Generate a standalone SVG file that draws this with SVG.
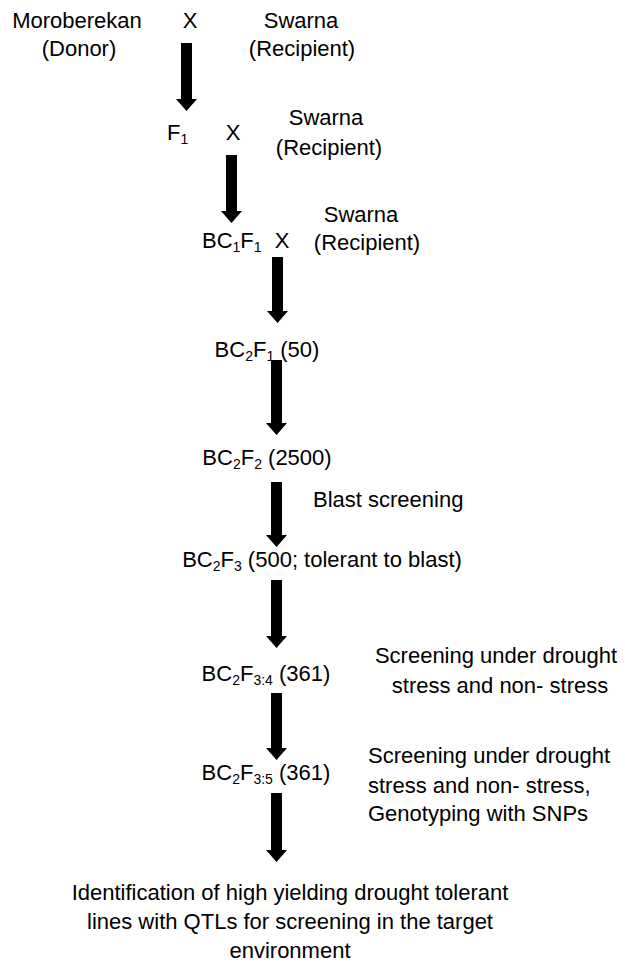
<svg xmlns="http://www.w3.org/2000/svg" width="625" height="967" viewBox="0 0 625 967">
<style>
text{font-family:"Liberation Sans",Arial,sans-serif;font-size:22px;fill:#000}
.s{font-size:14px}
.m{text-anchor:middle}
.arr{fill:#000}
</style>
<rect width="625" height="967" fill="#fff"/>
<g id="connectors" class="arr">
<path d="M181,43 H192 V99 H197 L186.5,111 L176,99 H181 Z"/>
<path d="M226,155 H237 V211 H242 L231.5,223 L221,211 H226 Z"/>
<path d="M272,257 H283 V311 H288 L277.5,323 L267,311 H272 Z"/>
<path d="M271,360 H282 V423 H287 L276.5,435 L266,423 H271 Z"/>
<path d="M271,482 H282 V535 H287 L276.5,547 L266,535 H271 Z"/>
<path d="M271,580 H282 V636 H287 L276.5,648 L266,636 H271 Z"/>
<path d="M271,693 H282 V748 H287 L276.5,760 L266,748 H271 Z"/>
<path d="M271,793 H282 V850 H287 L276.5,862 L266,850 H271 Z"/>
</g>
<g id="donor"><text class="m" x="77" y="28">Moroberekan</text><text class="m" x="79" y="56">(Donor)</text></g>
<g id="cross1"><text class="m" x="190" y="28">X</text></g>
<g id="recipient1"><text class="m" x="301" y="28">Swarna</text><text class="m" x="302" y="56">(Recipient)</text></g>
<g id="f1"><text x="167" y="140">F<tspan class="s" dy="4">1</tspan></text></g>
<g id="cross2"><text class="m" x="233" y="140">X</text></g>
<g id="recipient2"><text class="m" x="326" y="125">Swarna</text><text class="m" x="329" y="155">(Recipient)</text></g>
<g id="bc1f1"><text x="202" y="248">BC<tspan class="s" dy="4">1</tspan><tspan dy="-4">F</tspan><tspan class="s" dy="4">1</tspan></text></g>
<g id="cross3"><text class="m" x="282" y="248">X</text></g>
<g id="recipient3"><text class="m" x="361" y="222">Swarna</text><text class="m" x="367" y="250">(Recipient)</text></g>
<g id="bc2f1"><text class="m" x="267" y="357">BC<tspan class="s" dy="4">2</tspan><tspan dy="-4">F</tspan><tspan class="s" dy="4">1</tspan><tspan dy="-4"> (50)</tspan></text></g>
<g id="bc2f2"><text class="m" x="267" y="465">BC<tspan class="s" dy="4">2</tspan><tspan dy="-4">F</tspan><tspan class="s" dy="4">2</tspan><tspan dy="-4"> (2500)</tspan></text></g>
<g id="blast"><text x="313" y="507">Blast screening</text></g>
<g id="bc2f3"><text class="m" x="322" y="567">BC<tspan class="s" dy="4">2</tspan><tspan dy="-4">F</tspan><tspan class="s" dy="4">3</tspan><tspan dy="-4"> (500; tolerant to blast)</tspan></text></g>
<g id="bc2f34"><text class="m" x="266" y="681">BC<tspan class="s" dy="4">2</tspan><tspan dy="-4">F</tspan><tspan class="s" dy="4">3:4</tspan><tspan dy="-4"> (361)</tspan></text></g>
<g id="screen1"><text class="m" x="496" y="663">Screening under drought</text><text class="m" x="500" y="693">stress and non- stress</text></g>
<g id="bc2f35"><text class="m" x="266" y="780">BC<tspan class="s" dy="4">2</tspan><tspan dy="-4">F</tspan><tspan class="s" dy="4">3:5</tspan><tspan dy="-4"> (361)</tspan></text></g>
<g id="screen2"><text x="368" y="763">Screening under drought</text><text x="368" y="793">stress and non- stress,</text><text x="368" y="821">Genotyping with SNPs</text></g>
<g id="final"><text class="m" x="290" y="900">Identification of high yielding drought tolerant</text><text class="m" x="290" y="929">lines with QTLs for screening in the target</text><text class="m" x="290" y="958">environment</text></g>
</svg>
